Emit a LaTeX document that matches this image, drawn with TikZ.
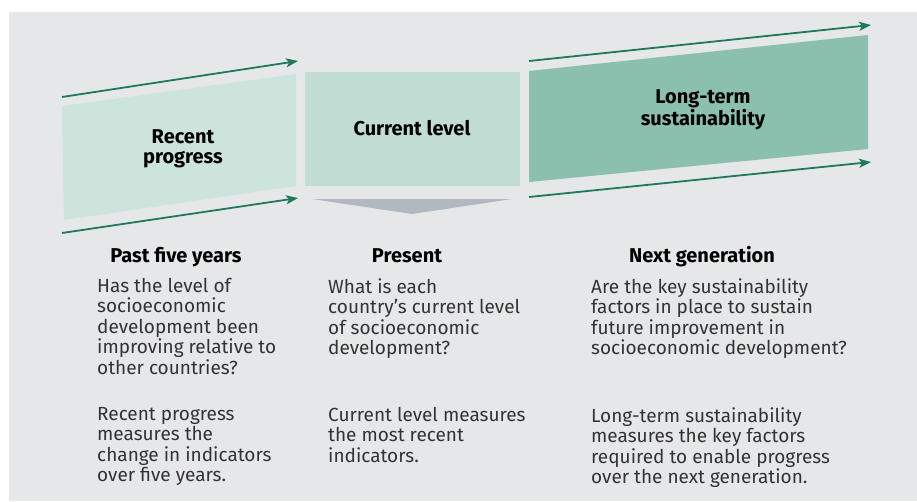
\documentclass[tikz,border=0pt]{standalone}
\usepackage{fontspec}
\setmainfont{Fira Sans}
\usetikzlibrary{arrows.meta}
\definecolor{bgc}{HTML}{E6E7E9}
\definecolor{boxa}{HTML}{CDE4DD}
\definecolor{boxb}{HTML}{C0DCD3}
\definecolor{boxc}{HTML}{8BBFAE}
\definecolor{arr}{HTML}{1E7A58}
\definecolor{tri}{HTML}{B1B8C0}
\definecolor{txt}{HTML}{333333}
\tikzset{
  flowarrow/.style={draw=arr, line width=1.8pt, -{Stealth[length=12pt,width=9pt,inset=3pt]}},
  boxtitle/.style={font=\fontsize{20}{20.5}\selectfont\bfseries, text=black, align=center, inner sep=0pt},
  colhead/.style={font=\fontsize{20}{21}\selectfont\bfseries, text=black, anchor=base, inner sep=0pt},
  bodytext/.style={font=\fontsize{19}{20.5}\selectfont, text=txt, anchor=north west, align=left, inner sep=0pt}
}
\begin{document}
\begin{tikzpicture}[x=1pt,y=-1pt]
\useasboundingbox (0,0) rectangle (917,501);
\fill[white] (0,0) rectangle (917,501);
\fill[bgc] (9,12) rectangle (917,501);
% boxes
\fill[boxa] (62,106) -- (296,74) -- (296,186) -- (64,220) -- cycle;
\fill[boxb] (305,72) rectangle (520,186);
\fill[boxc] (529,71) -- (868,35) -- (868,149) -- (529,182) -- cycle;
\fill[tri] (312,199) -- (512,199) -- (412,214) -- cycle;
% box titles
\node[boxtitle] (rp) at (183,149) {Recent\\progress};
\node[boxtitle] (cl) at (412,128) {Current level};
\node[boxtitle] (lt) at (703,110) {Long-term\\sustainability};
% arrows
\coordinate (a1s) at (62,97);  \coordinate (a1e) at (298,61);
\coordinate (a2s) at (62,233); \coordinate (a2e) at (298,198);
\coordinate (a3s) at (529,61); \coordinate (a3e) at (871,25);
\coordinate (a4s) at (529,197); \coordinate (a4e) at (871,162);
\draw[flowarrow] (a1s) -- (a1e);
\draw[flowarrow] (a2s) -- (a2e);
\draw[flowarrow] (a3s) -- (a3e);
\draw[flowarrow] (a4s) -- (a4e);
% column headings
\node[colhead] (h1) at (176,262) {Past five years};
\node[colhead] (h2) at (407,262) {Present};
\node[colhead] (h3) at (702,262) {Next generation};
% body texts
\node[bodytext] (q1) at (97,278) {Has the level of\\socioeconomic\\development been\\improving relative to\\other countries?};
\node[bodytext] (q2) at (328,278) {What is each\\country’s current level\\of socioeconomic\\development?};
\node[bodytext] (q3) at (591,278) {Are the key sustainability\\factors in place to sustain\\future improvement in\\socioeconomic development?};
\node[bodytext] (m1) at (97,407) {Recent progress\\measures the\\change in indicators\\over five years.};
\node[bodytext] (m2) at (328,407) {Current level measures\\the most recent\\indicators.};
\node[bodytext] (m3) at (591,407) {Long-term sustainability\\measures the key factors\\required to enable progress\\over the next generation.};
\end{tikzpicture}
\end{document}
